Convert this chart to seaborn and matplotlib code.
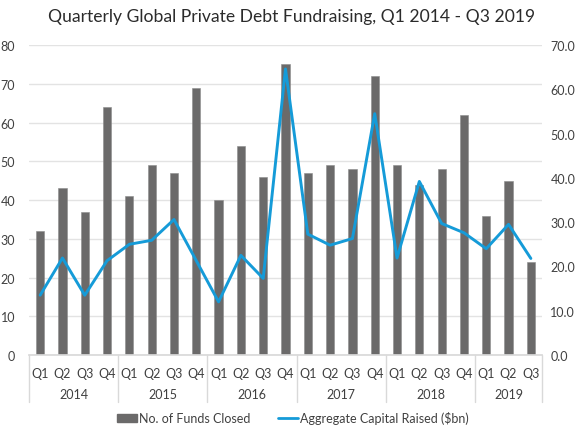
import numpy as np
import pandas as pd
import matplotlib
matplotlib.use("Agg")
import matplotlib.pyplot as plt
import matplotlib.transforms as mtransforms
from matplotlib.lines import Line2D
from matplotlib.patches import Patch
import seaborn as sns

years = ["2014", "2015", "2016", "2017", "2018", "2019"]
quarters_per_year = [4, 4, 4, 4, 4, 3]
quarter_names = ["Q1", "Q2", "Q3", "Q4"]
funds_closed = [32, 43, 37, 64,
                41, 49, 47, 69,
                40, 54, 46, 75,
                47, 49, 48, 72,
                49, 44, 48, 62,
                36, 45, 24]
capital_raised = [13.5, 21.9, 13.5, 21.3,
                  25.0, 25.9, 30.6, 21.3,
                  12.0, 22.5, 17.3, 64.6,
                  27.3, 24.8, 26.3, 54.5,
                  21.9, 39.2, 29.7, 27.6,
                  24.0, 29.5, 21.8]
title = "Quarterly Global Private Debt Fundraising, Q1 2014 - Q3 2019"
bar_label = "No. of Funds Closed"
line_label = "Aggregate Capital Raised ($bn)"

sns.set_theme(style="white")
plt.rcParams["font.family"] = ["Lato", "DejaVu Sans"]

period, qlab, ylab = [], [], []
for y, n in zip(years, quarters_per_year):
    for q in quarter_names[:n]:
        period.append(f"{y} {q}")
        qlab.append(q)
        ylab.append(y)
df = pd.DataFrame({"period": period, "quarter": qlab, "year": ylab,
                   "funds": funds_closed, "capital": capital_raised})
df["pos"] = np.arange(len(df))

fig = plt.figure(figsize=(5.8, 4.35), dpi=100)
ax = fig.add_axes([0.05, 0.1816, 0.8845, 0.7126])

bar_color = "#6b6a6a"
line_color = "#159bd8"
text_color = "#404040"
grid_color = "#e3e3e3"

sns.barplot(data=df, x="period", y="funds", order=period, color=bar_color,
            width=0.37, saturation=1, edgecolor="#8c8b8b", linewidth=0.4, ax=ax)
ax.set_ylim(0, 80)
ax.set_yticks(np.arange(0, 81, 10))
ax.set_xlim(-0.5, len(df) - 0.5)
ax.yaxis.grid(True, color=grid_color, linewidth=1)
ax.set_axisbelow(True)
ax.set_xticks(df["pos"])
ax.set_xticklabels(df["quarter"])
ax.set_xlabel("")
ax.set_ylabel("")
for s in ["left", "right", "top"]:
    ax.spines[s].set_visible(False)
ax.spines["bottom"].set_color("#d9d9d9")
ax.tick_params(axis="x", length=0, pad=8.5, labelsize=9, colors=text_color)
ax.tick_params(axis="y", length=0, pad=10, labelsize=9, colors=text_color)

ax2 = ax.twinx()
sns.lineplot(data=df, x="pos", y="capital", color=line_color, linewidth=2.1, ax=ax2)
ax2.set_ylim(0, 70)
ax2.set_yticks(np.arange(0, 71, 10))
ax2.set_yticklabels([f"{v:.1f}" for v in np.arange(0, 71, 10)])
ax2.set_xlim(-0.5, len(df) - 0.5)
ax2.set_ylabel("")
ax2.set_xlabel("")
for s in ["left", "right", "top", "bottom"]:
    ax2.spines[s].set_visible(False)
ax2.tick_params(axis="y", length=0, pad=6, labelsize=9, colors=text_color)
ax2.grid(False)

# two-level category axis: year separators and labels
trans = mtransforms.blended_transform_factory(ax.transData, ax.transAxes)
bounds = [-0.5]
for n in quarters_per_year:
    bounds.append(bounds[-1] + n)
for b in bounds:
    ax.add_line(Line2D([b, b], [0, -0.152], transform=trans, color="#d9d9d9",
                       linewidth=1, clip_on=False))
for i, y in enumerate(years):
    ax.text((bounds[i] + bounds[i + 1]) / 2, -0.126, y, transform=trans,
            ha="center", va="center", fontsize=9, color=text_color)

fig.text(0.502, 0.962, title, ha="center", va="center", fontsize=12.6,
         fontweight="normal", color="#2b2b2b")

handles = [Patch(facecolor=bar_color, edgecolor=bar_color),
           Line2D([0], [0], color=line_color, linewidth=2)]
fig.legend(handles, [bar_label, line_label], loc="center", ncol=2,
           bbox_to_anchor=(0.505, 0.037), frameon=False, fontsize=9,
           handlelength=1.6, handletextpad=0.2, columnspacing=2.2,
           labelcolor=text_color)

fig.savefig("out.png", dpi=100)
